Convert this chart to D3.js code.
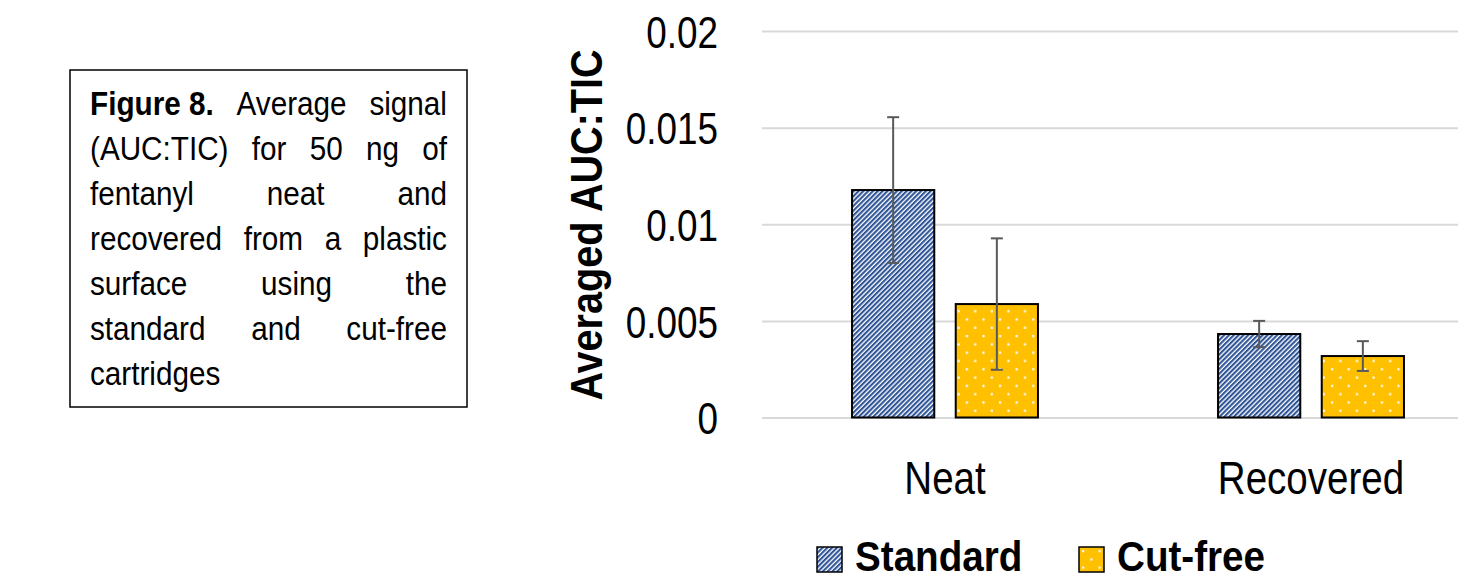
<!DOCTYPE html>
<html>
<head>
<meta charset="utf-8">
<script src="https://cdn.jsdelivr.net/npm/d3@7"></script>
<style>
  html, body { margin: 0; padding: 0; background: #fff; }
  svg { display: block; }
  text { font-family: "Liberation Sans", Arial, sans-serif; }
</style>
</head>
<body>
<svg id="chart" width="1458" height="577"></svg>
<script>
// data
const categories = ["Neat", "Recovered"];
const seriesNames = ["Standard", "Cut-free"];
const standardValues = [0.01177, 0.00432];
const standardErrors = [0.00377, 0.00068];
const cutFreeValues = [0.00587, 0.00318];
const cutFreeErrors = [0.00340, 0.00077];
const yTicks = [0, 0.005, 0.01, 0.015, 0.02];
const yTickLabels = ["0", "0.005", "0.01", "0.015", "0.02"];
const captionLines = [
    ["Figure 8.", "Average", "signal"],
    ["(AUC:TIC)", "for", "50", "ng", "of"],
    ["fentanyl", "neat", "and"],
    ["recovered", "from", "a", "plastic"],
    ["surface", "using", "the"],
    ["standard", "and", "cut-free"],
    ["cartridges"]
];

// no narrow font installed, so squeeze Liberation Sans horizontally
const NARROW = 0.82;
const squeeze = (k) => " scale(" + k + ",1)";

const svg = d3.select("#chart");
const defs = svg.append("defs");

// diagonal stripe pattern for Standard
const stripe = defs.append("pattern")
    .attr("id", "stripes")
    .attr("patternUnits", "userSpaceOnUse")
    .attr("width", 3.4)
    .attr("height", 3.4)
    .attr("patternTransform", "rotate(45)");
stripe.append("rect").attr("width", 3.4).attr("height", 3.4).attr("fill", "#ffffff");
stripe.append("rect").attr("width", 2.1).attr("height", 3.4).attr("fill", "#2f5597");

// dotted pattern for Cut-free
const dots = defs.append("pattern")
    .attr("id", "dots")
    .attr("patternUnits", "userSpaceOnUse")
    .attr("width", 16.6)
    .attr("height", 16.6);
dots.append("rect").attr("width", 16.6).attr("height", 16.6).attr("fill", "#ffc000");
dots.append("rect").attr("x", 3).attr("y", 3).attr("width", 2.2).attr("height", 2.2).attr("fill", "#ffffff");
dots.append("rect").attr("x", 11.3).attr("y", 11.3).attr("width", 2.2).attr("height", 2.2).attr("fill", "#ffffff");

const fills = ["url(#stripes)", "url(#dots)"];
const values = [standardValues, cutFreeValues];
const errors = [standardErrors, cutFreeErrors];

// scales
const y = d3.scaleLinear().domain([0, 0.02]).range([417.5, 31]);
const x0 = d3.scaleBand().domain(categories).range([762, 1494]).paddingInner(0.492).paddingOuter(0.246);
const x1 = d3.scaleBand().domain(seriesNames).range([0, x0.bandwidth()]).paddingInner(0.207);

// gridlines + tick labels
const yAxis = d3.axisLeft(y)
    .tickValues(yTicks)
    .tickSize(-(1494 - 762))
    .tickFormat((d, i) => yTickLabels[i]);

const axisG = svg.append("g")
    .attr("transform", "translate(762,0)")
    .call(yAxis);
axisG.select(".domain").remove();
axisG.selectAll(".tick line")
    .attr("stroke", "#d9d9d9")
    .attr("stroke-width", 2);
axisG.selectAll(".tick text")
    .attr("x", 0)
    .attr("dy", "0.36em")
    .attr("transform", "translate(-44,0)" + squeeze(NARROW))
    .attr("font-size", "45px")
    .attr("fill", "#000");
axisG.attr("font-family", null);

// bars
const rows = [];
categories.forEach((c, ci) => {
    seriesNames.forEach((s, si) => {
        rows.push({ cat: c, series: s, si: si, v: values[si][ci], e: errors[si][ci] });
    });
});

const barG = svg.append("g");
barG.selectAll("rect.bar")
    .data(rows)
    .enter()
    .append("rect")
    .attr("class", "bar")
    .attr("x", d => x0(d.cat) + x1(d.series))
    .attr("y", d => y(d.v))
    .attr("width", x1.bandwidth())
    .attr("height", d => y(0) - y(d.v))
    .attr("fill", d => fills[d.si])
    .attr("stroke", "#000")
    .attr("stroke-width", 2);

// error bars
const errG = barG.selectAll("g.err")
    .data(rows)
    .enter()
    .append("g")
    .attr("class", "err")
    .attr("stroke", "#595959")
    .attr("stroke-width", 2);
const cx = d => x0(d.cat) + x1(d.series) + x1.bandwidth() / 2;
errG.append("line")
    .attr("x1", cx).attr("x2", cx)
    .attr("y1", d => y(d.v + d.e))
    .attr("y2", d => y(d.v - d.e));
errG.append("line")
    .attr("x1", d => cx(d) - 6).attr("x2", d => cx(d) + 6)
    .attr("y1", d => y(d.v + d.e)).attr("y2", d => y(d.v + d.e));
errG.append("line")
    .attr("x1", d => cx(d) - 6).attr("x2", d => cx(d) + 6)
    .attr("y1", d => y(d.v - d.e)).attr("y2", d => y(d.v - d.e));

// category labels
svg.selectAll("text.cat")
    .data(categories)
    .enter()
    .append("text")
    .attr("class", "cat")
    .attr("transform", d => "translate(" + (x0(d) + x0.bandwidth() / 2) + ",494)" + squeeze(NARROW))
    .attr("text-anchor", "middle")
    .attr("font-size", "47px")
    .text(d => d);

// y axis title
svg.append("text")
    .attr("transform", "translate(602,225) rotate(-90)" + squeeze(0.9))
    .attr("text-anchor", "middle")
    .attr("font-size", "44px")
    .attr("font-weight", "bold")
    .text("Averaged AUC:TIC");

// legend
const legendX = [817, 1079];
const legend = svg.selectAll("g.legend")
    .data(seriesNames)
    .enter()
    .append("g")
    .attr("class", "legend")
    .attr("transform", (d, i) => "translate(" + legendX[i] + ",547)");
legend.append("rect")
    .attr("width", 25)
    .attr("height", 25)
    .attr("fill", (d, i) => fills[i])
    .attr("stroke", "#000")
    .attr("stroke-width", 1.5);
legend.append("text")
    .attr("transform", "translate(38,24)" + squeeze(0.92))
    .attr("font-size", "42px")
    .attr("font-weight", "bold")
    .text(d => d);

// caption box
svg.append("rect")
    .attr("x", 70)
    .attr("y", 70)
    .attr("width", 397)
    .attr("height", 337)
    .attr("fill", "none")
    .attr("stroke", "#000")
    .attr("stroke-width", 1.5);

const capLeft = 90, capRight = 447, capTop = 115, capStep = 45, capScale = 0.9;
captionLines.forEach((words, li) => {
    const lineG = svg.append("g");
    const yy = capTop + li * capStep;
    const texts = words.map((w, wi) => lineG.append("text")
        .attr("font-size", "33px")
        .attr("font-weight", (li === 0 && wi === 0) ? "bold" : "normal")
        .text(w));
    const widths = texts.map(t => t.node().getComputedTextLength() * capScale);
    const total = d3.sum(widths);
    // justify every line except the last one
    const gap = (li < captionLines.length - 1 && words.length > 1)
        ? (capRight - capLeft - total) / (words.length - 1) : 8;
    let xPos = capLeft;
    texts.forEach((t, i) => {
        t.attr("transform", "translate(" + xPos + "," + yy + ")" + squeeze(capScale));
        xPos += widths[i] + gap;
    });
});
</script>
</body>
</html>
